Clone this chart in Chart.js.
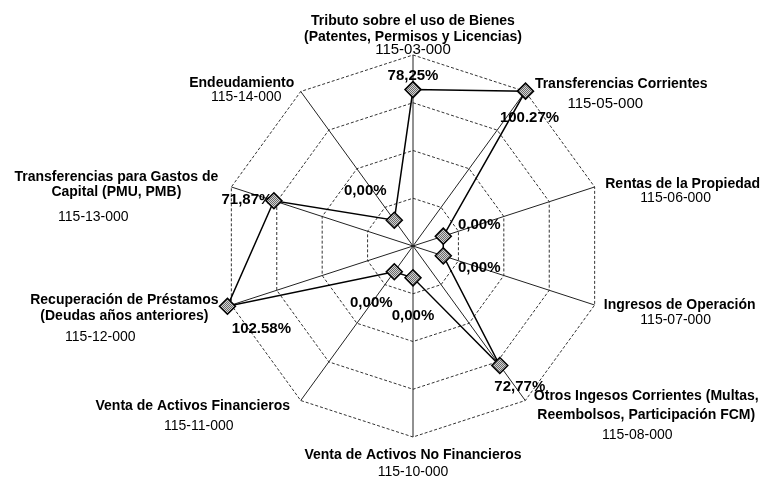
<!DOCTYPE html>
<html>
<head>
<meta charset="utf-8">
<script src="https://cdn.jsdelivr.net/npm/chart.js@4/dist/chart.umd.min.js"></script>
<style>
  html, body { margin: 0; padding: 0; background: #fff; }
</style>
</head>
<body>
<canvas id="radarChart" width="764" height="478"></canvas>
<script>
// categories (one entry per axis, clockwise from top)
let categories = [
    ['Tributo sobre el uso de Bienes', '(Patentes, Permisos y Licencias)'],
    ['Transferencias Corrientes'],
    ['Rentas de la Propiedad'],
    ['Ingresos de Operación'],
    ['Otros Ingesos Corrientes (Multas,', 'Reembolsos, Participación FCM)'],
    ['Venta de Activos No Financieros'],
    ['Venta de Activos Financieros'],
    ['Recuperación de Préstamos', '(Deudas años anteriores)'],
    ['Transferencias para Gastos de', 'Capital (PMU, PMB)'],
    ['Endeudamiento']
];
let codes = [
    '115-03-000', '115-05-000', '115-06-000', '115-07-000', '115-08-000',
    '115-10-000', '115-11-000', '115-12-000', '115-13-000', '115-14-000'
];

// executed percentage per category
let values = [78.25, 100.27, 0, 0, 72.77, 0, 0, 102.58, 71.87, 0];
let valueLabels = ['78,25%', '100.27%', '0,00%', '0,00%', '72,77%', '0,00%', '0,00%', '102.58%', '71,87%', '0,00%'];

// radial axis
let axisMin = -20;
let axisMax = 100;
let axisStep = 30;

let FONT = "'Liberation Sans', Arial, sans-serif";

/**
 * Category label placement, relative to the outer end of each spoke.
 * dx/dy: first line, lh: line height, cdx/cdy: extra shift of the code line, cs: code font size
 */
let labelLayout = [
    {dx: 0, dy: -34, lh: 16, cdx: 0, cdy: -3, cs: 15},
    {dx: 96, dy: -7, lh: 19, cdx: -16, cdy: 0, cs: 15},
    {dx: 88, dy: -3, lh: 14, cdx: -7, cdy: 0, cs: 14},
    {dx: 85, dy: 0, lh: 15, cdx: -4, cdy: 0, cs: 14},
    {dx: 121, dy: -4, lh: 18.5, cdx: -9, cdy: 1.5, cs: 14},
    {dx: 0, dy: 18, lh: 17, cdx: 0, cdy: 0, cs: 14},
    {dx: -108, dy: 6, lh: 20, cdx: 6, cdy: 0, cs: 14},
    {dx: -107, dy: -5, lh: 16, cdx: -24, cdy: 5, cs: 14},
    {dx: -115, dy: -10, lh: 15, cdx: -23, cdy: 10, cs: 14},
    {dx: -59, dy: -8, lh: 13.5, cdx: 4.5, cdy: 0, cs: 14}
];

/**
 * Value label placement, relative to each point
 */
let valueOffsets = [
    [0, -14], [4, 27], [36, -11], [36, 12], [20, 21],
    [0, 38], [-23, 31], [34, 23], [-27, -1], [-29, -29]
];

let canvas = document.getElementById('radarChart');
let ctx = canvas.getContext('2d');

/**
 * Grey dithered fill for the diamond markers
 */
let patCanvas = document.createElement('canvas');
patCanvas.width = 2;
patCanvas.height = 2;
let pctx = patCanvas.getContext('2d');
pctx.fillStyle = '#d4d4d4';
pctx.fillRect(0, 0, 2, 2);
pctx.fillStyle = '#6a6a6a';
pctx.fillRect(0, 0, 1, 1);
pctx.fillRect(1, 1, 1, 1);
let hatch = ctx.createPattern(patCanvas, 'repeat');

let labelPlugin = {
    id: 'labelPlugin',
    beforeDatasetsDraw(chart) {
        let c = chart.ctx;
        let scale = chart.scales.r;
        c.save();
        c.fillStyle = '#000';
        c.textAlign = 'center';
        c.textBaseline = 'middle';

        // category names + codes
        categories.forEach((lines, i) => {
            let p = scale.getPointPosition(i, scale.drawingArea);
            let L = labelLayout[i];
            let x = p.x + L.dx;
            let y = p.y + L.dy;
            c.font = 'bold 14px ' + FONT;
            lines.forEach((t, k) => {
                c.fillText(t, x, y + k * L.lh);
            });
            c.font = L.cs + 'px ' + FONT;
            c.fillText(codes[i], x + L.cdx, y + lines.length * L.lh + L.cdy);
        });

        // value labels
        let meta = chart.getDatasetMeta(0);
        c.font = 'bold 15px ' + FONT;
        meta.data.forEach((pt, i) => {
            c.fillText(valueLabels[i], pt.x + valueOffsets[i][0], pt.y + valueOffsets[i][1]);
        });
        c.restore();
    }
};

let radarChart = new Chart(ctx, {
    type: 'radar',
    data: {
        labels: categories.map(l => l.join(' ')),
        datasets: [{
            data: values,
            borderColor: '#000',
            borderWidth: 1.5,
            fill: false,
            tension: 0,
            pointStyle: 'rectRot',
            pointRadius: 8,
            pointHoverRadius: 8,
            pointBorderWidth: 1.5,
            pointBorderColor: '#000',
            pointBackgroundColor: hatch,
            clip: false
        }]
    },
    options: {
        responsive: false,
        animation: false,
        layout: {
            padding: {left: 222, right: 160, top: 55, bottom: 41}
        },
        plugins: {
            legend: {display: false},
            tooltip: {enabled: false}
        },
        scales: {
            r: {
                min: axisMin,
                max: axisMax,
                ticks: {display: false, stepSize: axisStep},
                pointLabels: {display: false},
                angleLines: {color: '#222', lineWidth: 1},
                grid: {color: '#333', lineWidth: 1},
                border: {dash: [3, 2]}
            }
        }
    },
    plugins: [labelPlugin]
});
</script>
</body>
</html>
